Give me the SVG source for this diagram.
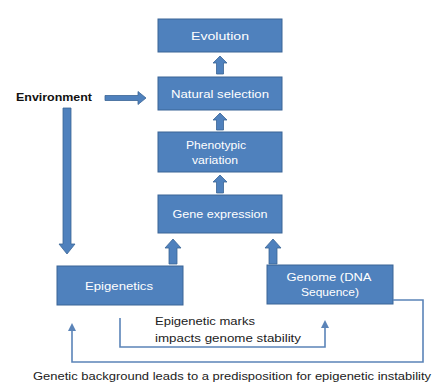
<svg xmlns="http://www.w3.org/2000/svg" width="438" height="390" viewBox="0 0 438 390">
<defs>
<style>
.box{fill:#4F81BD;stroke:#3A6496;stroke-width:1}
.bt{font-family:"Liberation Sans",Arial,sans-serif;font-size:11px;fill:#ffffff;text-anchor:middle}
.blk{fill:#4F81BD;stroke:#3A6496;stroke-width:0.8}
.ln{fill:none;stroke:#5B84B8;stroke-width:1.6}
.lt{font-family:"Liberation Sans",Arial,sans-serif;font-size:11.5px;fill:#222}
</style>
<marker id="ah" viewBox="0 0 10 10" refX="5" refY="5" markerWidth="5" markerHeight="5" orient="auto">
<path d="M0,0 L10,5 L0,10 Z" fill="#5B84B8"/>
</marker>
</defs>
<rect width="438" height="390" fill="#ffffff"/>
<g id="evolution"><rect class="box" x="158" y="19" width="124" height="33"/><text class="bt" x="220" y="39.5" textLength="58" lengthAdjust="spacingAndGlyphs">Evolution</text></g>
<g id="natural-selection"><rect class="box" x="158" y="77" width="124" height="33"/><text class="bt" x="220" y="97.5" textLength="98" lengthAdjust="spacingAndGlyphs">Natural selection</text></g>
<g id="phenotypic-variation"><rect class="box" x="158" y="132" width="124" height="40"/><text class="bt" x="216" y="149" textLength="60" lengthAdjust="spacingAndGlyphs">Phenotypic</text><text class="bt" x="215" y="164" textLength="46" lengthAdjust="spacingAndGlyphs">variation</text></g>
<g id="gene-expression"><rect class="box" x="158" y="195" width="124" height="38"/><text class="bt" x="220" y="218" textLength="95" lengthAdjust="spacingAndGlyphs">Gene expression</text></g>
<g id="epigenetics"><rect class="box" x="57" y="266" width="126" height="39"/><text class="bt" x="119" y="290" textLength="68" lengthAdjust="spacingAndGlyphs">Epigenetics</text></g>
<g id="genome"><rect class="box" x="267" y="265" width="126" height="39"/><text class="bt" x="329" y="281" textLength="85" lengthAdjust="spacingAndGlyphs">Genome (DNA</text><text class="bt" x="330" y="296" textLength="58" lengthAdjust="spacingAndGlyphs">Sequence)</text></g>
<g id="environment"><text x="16" y="101" font-family="'Liberation Sans',Arial,sans-serif" font-size="10.5px" font-weight="bold" fill="#111" textLength="76" lengthAdjust="spacingAndGlyphs">Environment</text></g>
<g id="connectors">
<path class="blk" d="M220,56 L227,63 L223.5,63 L223.5,74 L216.5,74 L216.5,63 L213,63 Z"/>
<path class="blk" d="M220,113 L227,120 L223.5,120 L223.5,130 L216.5,130 L216.5,120 L213,120 Z"/>
<path class="blk" d="M220,175 L227,182 L223.5,182 L223.5,193 L216.5,193 L216.5,182 L213,182 Z"/>
<path class="blk" d="M173,239 L181,248 L177,248 L177,264 L169,264 L169,248 L165,248 Z"/>
<path class="blk" d="M273,239 L281,248 L277,248 L277,264 L269,264 L269,248 L265,248 Z"/>
<path class="blk" d="M146,98 L138,91.5 L138,95.5 L105,95.5 L105,100.5 L138,100.5 L138,104.5 Z"/>
<path class="blk" d="M67,254 L75,244 L71,244 L71,108 L63,108 L63,244 L59,244 Z"/>
<path class="ln" d="M120,318 V347 H325 V324" marker-end="url(#ah)"/>
<path class="ln" d="M393,300 H423 V362 H72 V327" marker-end="url(#ah)"/>
</g>
<text class="lt" x="155" y="325" textLength="100" lengthAdjust="spacingAndGlyphs">Epigenetic marks</text>
<text class="lt" x="155" y="342" textLength="146" lengthAdjust="spacingAndGlyphs">impacts genome stability</text>
<text class="lt" x="33" y="380" textLength="398" lengthAdjust="spacingAndGlyphs">Genetic background leads to a predisposition for epigenetic instability</text>
</svg>
